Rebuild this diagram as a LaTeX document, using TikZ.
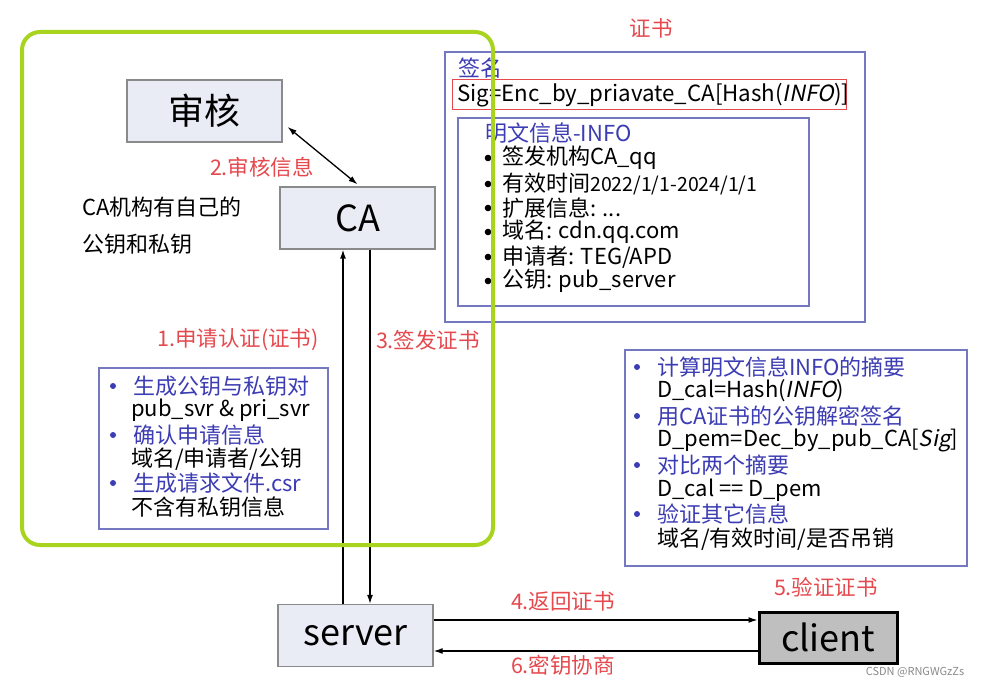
\documentclass[tikz,border=0pt]{standalone}
\usepackage{fontspec}
\setmainfont[AutoFakeSlant=0.2]{Noto Sans CJK SC}
\usetikzlibrary{arrows.meta,positioning}
\definecolor{lav}{HTML}{E9EBF5}
\definecolor{bord}{HTML}{7478C0}
\definecolor{redt}{HTML}{E5484D}
\definecolor{bluet}{HTML}{3C3CB4}
\definecolor{lime}{HTML}{A8D41E}
\definecolor{gr}{HTML}{8A8A8A}

\begin{document}
\begin{tikzpicture}[x=1pt,y=-1pt,
  ent/.style={draw=gr,fill=lav,line width=1.3pt,minimum width=155pt,minimum height=62pt,
    font=\fontsize{36}{36}\selectfont},
  lbl/.style={text=redt,font=\fontsize{21.5}{21.5}\selectfont},
  txt/.style={anchor=west,inner sep=0pt,font=\fontsize{22}{22}\selectfont},
  frm/.style={draw=bord,line width=1.3pt},
  arr/.style={-{Latex[length=9pt,width=6pt]},line width=1.3pt}]
  \path[use as bounding box,fill=white] (0,0) rectangle (991,687);

  % entities
  \node[ent] (shenhe) at (204.5,111) {审核};
  \node[ent] (ca) at (357.5,218) {CA};
  \node[ent] (server) at (355.5,635.5) {server};
  \node[ent,fill=black!25,draw=black,line width=3pt,minimum width=138pt,minimum height=51pt] (client) at (828,637.5) {client};

  % connectors
  \draw[{Latex[length=9pt,width=6pt]}-{Latex[length=9pt,width=6pt]},line width=1.3pt]
    ([xshift=5pt,yshift=-16pt]shenhe.east) -- ([yshift=2pt]ca.north);
  \draw[arr] ([xshift=-12.5pt]server.north) -- ([xshift=-12.5pt]server.north |- ca.south);
  \draw[arr] ([xshift=12.5pt]ca.south) -- ([xshift=12.5pt]ca.south |- server.north);
  \draw[arr] ([yshift=15.5pt]server.east) -- ([yshift=15.5pt]server.east -| client.west);
  \draw[arr] ([yshift=-15.5pt]server.east -| client.west) -- ([yshift=-15.5pt]server.east);

  % step labels
  \node[lbl] (l1) at (238,340) {1.申请认证(证书)};
  \node[lbl] (l2) at (262,167) {2.审核信息};
  \node[lbl] (l3) at (428,340) {3.签发证书};
  \node[lbl] (l4) at (563,601) {4.返回证书};
  \node[lbl] (l5) at (826,587) {5.验证证书};
  \node[lbl] (l6) at (563,665) {6.密钥协商};
  \node[lbl] (lcert) at (651,28) {证书};

  \node[txt] (note1) at (82,207) {CA机构有自己的};
  \node[txt] (note2) at (82,244) {公钥和私钥};

  % server side steps
  \draw[frm] (99,368) rectangle (328,529);
  \foreach \y/\t [count=\i] in {386/生成公钥与私钥对,435/确认申请信息,483/{生成请求文件.csr}} {
    \fill[bluet] (113,\y) circle (3pt);
    \node[txt,text=bluet] (sa\i) at (133,\y) {\t};
  }
  \foreach \y/\t [count=\i] in {410/{pub\_svr \& pri\_svr},459/{域名/申请者/公钥},507/{不含有私钥信息}} {
    \node[txt] (sb\i) at (131,\y) {\t};
  }

  % certificate
  \draw[frm] (445,52) rectangle (865,322);
  \node[txt,text=bluet] (qm) at (458,68) {签名};
  \draw[redt,line width=1pt] (452,80) rectangle (846,110);
  \node[txt,font=\fontsize{22.3}{22.3}\selectfont] (sig) at (457,95) {Sig=Enc\_by\_priavate\_CA[Hash(\textit{INFO})]};
  \draw[frm] (458,118) rectangle (809,306);
  \node[txt,text=bluet] (mw) at (485,133) {明文信息-INFO};
  \foreach \y/\t [count=\i] in {158/{签发机构CA\_qq},184/{有效时间{\fontsize{19.5}{19.5}\selectfont 2022/1/1-2024/1/1}},
      208/{扩展信息: ...},232/{域名: cdn.qq.com},257/{申请者: TEG/APD},281/{公钥: pub\_server}} {
    \fill (488,\y) circle (3.3pt);
    \node[txt] (inf\i) at (502,\y) {\t};
  }

  % client side checks
  \draw[frm] (625,350) rectangle (967,566);
  \foreach \y/\t [count=\i] in {367/计算明文信息INFO的摘要,416/用CA证书的公钥解密签名,465/对比两个摘要,514/验证其它信息} {
    \fill[bluet] (637,\y) circle (3pt);
    \node[txt,text=bluet] (ck\i) at (657,\y) {\t};
  }
  \foreach \y/\t [count=\i] in {391/{D\_cal=Hash(\textit{INFO})},440/{D\_pem=Dec\_by\_pub\_CA[\textit{Sig}]},
      490/{D\_cal == D\_pem},539/{域名/有效时间/是否吊销}} {
    \node[txt] (cv\i) at (657,\y) {\t};
  }

  % CA frame
  \draw[lime,line width=4pt,rounded corners=18pt] (22,32) rectangle (493,545);

  \node[text=gr,font=\fontsize{11}{11}\selectfont] (wm) at (915,672) {CSDN @RNGWGzZs};
\end{tikzpicture}
\end{document}
